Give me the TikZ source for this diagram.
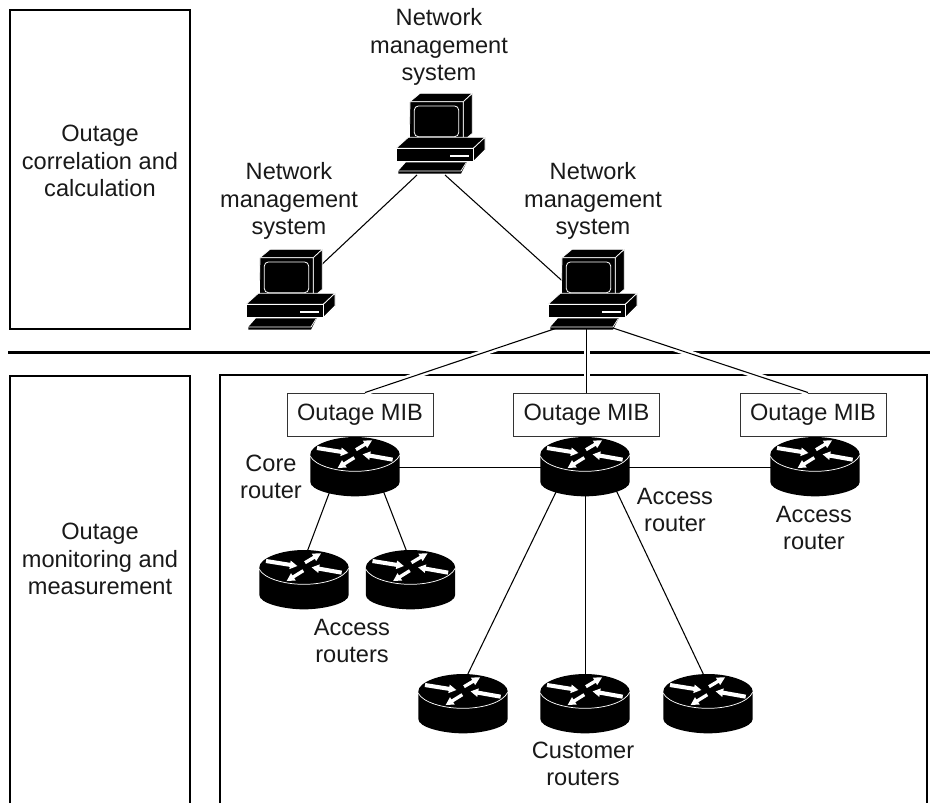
\documentclass[tikz,border=0pt]{standalone}
\usepackage{fontspec}
\setmainfont{Liberation Sans}
\tikzset{
  lbl/.style={align=center,inner sep=0pt,font=\fontsize{17.7pt}{20.4pt}\selectfont,text=black!90},
  mib/.style={draw=black!80,line width=0.7pt,minimum width=109.5pt,minimum height=32.25pt,inner sep=0pt,font=\fontsize{17.7pt}{20.25pt}\selectfont,text=black!90},
  heavy/.style={draw=black,line width=1.8pt},
  link/.style={draw=black,line width=0.8pt},
  halo/.style={draw=white,line width=4.5pt},
  sep/.style={draw=white,line width=0.55pt},
  pics/computer/.style={code={
    \begin{scope}[x=0.25pt,y=-0.25pt]
      \filldraw[fill=black,sep] (90,125) -- (120,100) -- (277,100) -- (250,125) -- cycle;
      \filldraw[fill=black,sep] (250,125) -- (277,100) -- (277,220) -- (250,243) -- cycle;
      \filldraw[fill=black,sep] (90,125) -- (250,125) -- (250,243) -- (88,243) -- cycle;
      \draw[draw=white,line width=0.6pt,rounded corners=3pt] (103,138) rectangle (236,230);
      \filldraw[fill=black,sep] (48,265) -- (85,232) -- (315,232) -- (280,265) -- cycle;
      \filldraw[fill=black,sep] (280,265) -- (315,232) -- (315,270) -- (280,305) -- cycle;
      \filldraw[fill=black,sep] (48,265) -- (280,265) -- (280,305) -- (48,305) -- cycle;
      \draw[draw=white,line width=1pt] (210,288) -- (268,288);
      \fill[black] (55,333) -- (78,307) -- (260,307) -- (243,341) -- (55,341) -- cycle;
      \draw[sep] (55,333) -- (243,333) -- (258,309);
    \end{scope}
  }},
  pics/router/.style={code={
    \begin{scope}[x=0.25pt,y=-0.25pt]
      \fill[black] (-134,52) -- (-134,135) .. controls (-134,160) and (-60,178) .. (0,178)
        .. controls (60,178) and (134,160) .. (134,135) -- (134,52)
        .. controls (134,25) and (70,0) .. (0,0) .. controls (-70,0) and (-134,25) .. (-134,52) -- cycle;
      \draw[sep] (-134,58) .. controls (-120,85) and (-60,103) .. (0,103)
        .. controls (60,103) and (120,85) .. (134,55);
      \fill[white] (-115,39) -- (-113,27) -- (-41,38.5) -- (-40,31.6) -- (-20,48) -- (-44,57.4) -- (-43,50.5) -- cycle;
      \fill[white] (0.5,33.7) -- (5.5,42.3) -- (32.5,26.3) -- (36.5,33.2) -- (51,10) -- (23.5,10.8) -- (27.5,17.7) -- cycle;
      \fill[white] (114,62) -- (112,74) -- (44,62) -- (42.7,68.8) -- (23,52) -- (47.3,43.2) -- (46,50) -- cycle;
      \fill[white] (0.6,66.2) -- (-4.6,57.8) -- (-34.6,76.3) -- (-39,69.5) -- (-52,93) -- (-25,91.5) -- (-29.4,84.7) -- cycle;
    \end{scope}
  }}
}
\begin{document}
\begin{tikzpicture}[x=0.75pt,y=-0.75pt]
\useasboundingbox (0,0) rectangle (930,803);
\draw[heavy] (10,10) rectangle (190,329);
\draw[heavy] (10,803) -- (10,376) -- (190,376) -- (190,803);
\draw[heavy] (220,803) -- (220,375) -- (927,375) -- (927,803);
\draw[draw=black,line width=2.25pt] (8,352) -- (930,352);
\coordinate (coreR) at (355,467.5);
\coordinate (midR) at (585,467.5);
\coordinate (edgeR) at (815,467.5);
\coordinate (accA) at (304,560);
\coordinate (accB) at (410,560);
\coordinate (custA) at (463,684);
\coordinate (custB) at (585.5,684);
\coordinate (custC) at (708,684);
\coordinate (portTL) at (417,175);
\coordinate (portTR) at (445,175);
\coordinate (portLT) at (318,268);
\coordinate (portRT) at (569,287);
\coordinate (portRL) at (557,328);
\coordinate (portRM) at (586.5,328);
\coordinate (portRR) at (613,328);
\coordinate (portCA) at (339,467);
\coordinate (portCB) at (374,467);
\coordinate (portMA) at (557,490);
\coordinate (portMB) at (585.5,490);
\coordinate (portMC) at (616,490);
\node[mib] (mibA) at (360,414.5) {Outage MIB};
\node[mib] (mibB) at (586.5,414.5) {Outage MIB};
\node[mib] (mibC) at (813,414.5) {Outage MIB};
\draw[link] (portTL) -- (portLT);
\draw[link] (portTR) -- (portRT);
\path[halo] (portRL) -- ([xshift=3.75pt]mibA.north);
\path[halo] (portRM) -- (mibB.north);
\path[halo] (portRR) -- ([xshift=-3.75pt]mibC.north);
\draw[link] (portRL) -- ([xshift=3.75pt]mibA.north);
\draw[link] (portRM) -- (mibB.north);
\draw[link] (portRR) -- ([xshift=-3.75pt]mibC.north);
\draw[link] (coreR) -- (midR) -- (edgeR);
\draw[link] (portCA) -- (accA);
\draw[link] (portCB) -- (accB);
\draw[link] (portMA) -- (custA);
\draw[link] (portMB) -- (custB);
\draw[link] (portMC) -- (custC);
\pic at (380,60) {computer};
\pic at (230,216) {computer};
\pic at (532,216) {computer};
\pic at (355,437) {router};
\pic at (585,437) {router};
\pic at (815,437) {router};
\pic at (304,550) {router};
\pic at (410.5,550) {router};
\pic at (463,674) {router};
\pic at (585,674) {router};
\pic at (708,674) {router};
\node[lbl] (tNms) at (439,47) {Network\\management\\system};
\node[lbl] (lNms) at (289,201) {Network\\management\\system};
\node[lbl] (rNms) at (593,201) {Network\\management\\system};
\node[lbl] (tCalc) at (100,161) {Outage\\correlation and\\calculation};
\node[lbl] (tMon) at (100,559) {Outage\\monitoring and\\measurement};
\node[lbl] (tCore) at (271,477) {Core\\router};
\node[lbl] (tAccM) at (675,510) {Access\\router};
\node[lbl] (tAccE) at (814,528) {Access\\router};
\node[lbl] (tAccs) at (352,641) {Access\\routers};
\node[lbl] (tCust) at (583,764) {Customer\\routers};
\end{tikzpicture}
\end{document}
